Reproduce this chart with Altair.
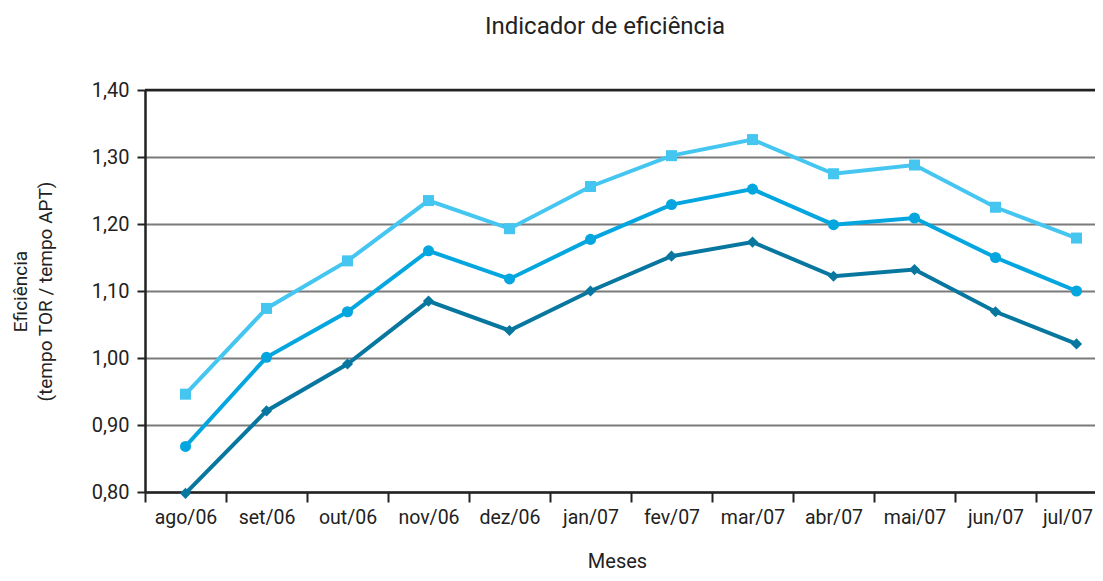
import altair as alt
import pandas as pd

meses = ["ago/06", "set/06", "out/06", "nov/06", "dez/06", "jan/07",
         "fev/07", "mar/07", "abr/07", "mai/07", "jun/07", "jul/07"]
serie_alta = [0.946, 1.074, 1.145, 1.235, 1.193, 1.256, 1.302, 1.326, 1.275, 1.288, 1.225, 1.179]
serie_media = [0.868, 1.001, 1.069, 1.160, 1.118, 1.177, 1.229, 1.252, 1.199, 1.209, 1.150, 1.100]
serie_baixa = [0.798, 0.921, 0.991, 1.085, 1.041, 1.100, 1.152, 1.173, 1.122, 1.132, 1.069, 1.021]
nomes = ["alta", "media", "baixa"]
cores = ["#45c6f1", "#04a6df", "#08779f"]
formas = ["square", "circle", "diamond"]
tamanhos = [121, 125, 220]
y_ticks = [0.8, 0.9, 1.0, 1.1, 1.2, 1.3, 1.4]

rows = []
for nome, vals in zip(nomes, [serie_alta, serie_media, serie_baixa]):
    for i, (m, v) in enumerate(zip(meses, vals)):
        rows.append({"idx": i, "mes": m, "valor": v, "serie": nome})
df = pd.DataFrame(rows)

FONT = "Roboto"
PLOT_W = 950
BAND = 81.0
x_max = -0.5 + PLOT_W / BAND
x_ticks = [i - 0.5 for i in range(len(meses))]
label_expr = "[" + ",".join("'%s'" % m for m in meses) + "][round(datum.value + 0.5)]"

x_enc = alt.X("idx:Q",
              scale=alt.Scale(domain=[-0.5, x_max], nice=False, zero=False),
              axis=alt.Axis(title="Meses", values=x_ticks, labelExpr=label_expr,
                            labelOffset={"expr": "datum.value > 10 ? %s : %s" % (BAND / 2 - 9, BAND / 2)},
                            grid=False,
                            labelAngle=0, tickSize=10, tickWidth=2, tickColor="#222",
                            domainColor="#222", domainWidth=2.5, labelPadding=6,
                            labelFontSize=19.5, labelColor="#222", labelFont=FONT,
                            titleFont=FONT, titleFontSize=20, titleFontWeight="normal",
                            titleColor="#222", titleX=472, titleY=75,
                            titleBaseline="alphabetic", titleAlign="center",
                            labelOverlap=False, labelBound=False, labelFlush=False))
y_enc = alt.Y("valor:Q",
              scale=alt.Scale(domain=[0.8, 1.4], nice=False, zero=False),
              axis=alt.Axis(values=y_ticks, labelExpr="replace(format(datum.value, '.2f'), '.', ',')",
                            title=["Eficiência", "(tempo TOR / tempo APT)"],
                            titleAngle=-90, titleX=-125, titleY=201, titleAlign="center",
                            titleBaseline="middle", titleLineHeight=25,
                            titleFont=FONT, titleFontSize=19, titleFontWeight="normal",
                            titleColor="#222",
                            tickSize=8, tickWidth=2, tickColor="#222",
                            domainColor="#222", domainWidth=2.5, labelPadding=8,
                            labelFontSize=20, labelColor="#222", labelFont=FONT,
                            grid=True, gridColor="#7a7a7a", gridWidth=2))

color = alt.Color("serie:N", scale=alt.Scale(domain=nomes, range=cores), legend=None)
shape = alt.Shape("serie:N", scale=alt.Scale(domain=nomes, range=formas), legend=None)
size = alt.Size("serie:N", scale=alt.Scale(domain=nomes, range=tamanhos), legend=None)

base = alt.Chart(df)
lines = base.mark_line(strokeWidth=4, clip=False).encode(x=x_enc, y=y_enc, color=color, detail="serie:N")
points = base.mark_point(filled=True, opacity=1, clip=False).encode(
    x="idx:Q", y="valor:Q", color=color, shape=shape, size=size)
top = alt.Chart(pd.DataFrame({"v": [1.4]})).mark_rule(color="#222", strokeWidth=2.5).encode(y="v:Q")

chart = alt.layer(lines, points, top).properties(
    width=PLOT_W, height=402,
    autosize=alt.AutoSizeParams(type="none"),
    padding={"left": 137, "top": 82, "right": 0, "bottom": 81},
    title=alt.TitleParams("Indicador de eficiência", font=FONT, fontSize=24,
                          fontWeight="normal", color="#222", anchor="middle",
                          dx=-15, offset=41),
).configure_view(fill="#f0f2f4", stroke=None).configure(background="white")

chart.save("out.html", embed_options={"renderer": "svg", "actions": False})
